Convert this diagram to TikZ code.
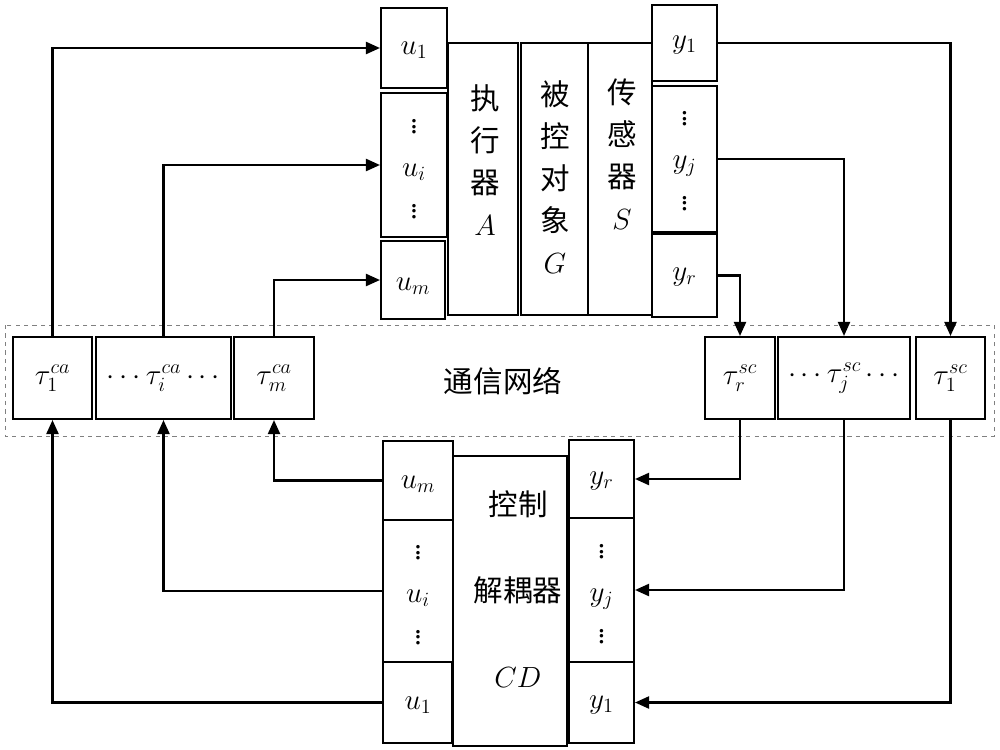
\documentclass[tikz,border=0pt]{standalone}
\usepackage{fontspec}
\setmainfont{Liberation Serif}
\newfontfamily\cjk{Noto Sans CJK SC}
\usepackage{tikz}
\usetikzlibrary{arrows.meta,positioning}

\begin{document}
\begin{tikzpicture}[
        x=0.025cm, y=-0.025cm,
        box/.style={draw, line width=1.4pt, inner sep=0pt},
        txt/.style={align=center, font=\fontsize{21}{30}\selectfont},
        flow/.style={->, line width=1.7pt},
        >={Triangle[length=10pt,width=8.5pt]}
    ]
        \useasboundingbox (0,0) rectangle (1000,750);

        % plant side
        \node[box, minimum width=1.65cm, minimum height=2cm] (ua1) at (414,48) {};
        \node[txt] (ua1t) at (414,50) {$u_1$};
        \node[box, minimum width=1.65cm, minimum height=3.6cm] (uai) at (414,165) {};
        \node[txt] (uait) at (414,165) {$\vdots$\\$u_i$\\$\vdots$};
        \node[box, minimum width=1.6cm, minimum height=1.95cm] (uam) at (413,280) {};
        \node[txt] (uamt) at (413,286) {$u_m$};

        \node[box, minimum width=1.75cm, minimum height=6.8cm] (act) at (483,179) {};
        \node[txt] (actt) at (485,160) {\cjk 执\\\cjk 行\\\cjk 器\\$A$};
        \node[box, minimum width=1.675cm, minimum height=6.8cm] (plant) at (554.5,179) {};
        \node[txt] (plantt) at (555,177) {\cjk 被\\\cjk 控\\\cjk 对\\\cjk 象\\$G$};
        \node[box, minimum width=1.6cm, minimum height=6.8cm] (sens) at (620,179) {};
        \node[txt] (senst) at (622,154) {\cjk 传\\\cjk 感\\\cjk 器\\$S$};

        \node[box, minimum width=1.625cm, minimum height=1.9cm] (y1) at (684.5,43) {};
        \node[txt] (y1t) at (684.5,45) {$y_1$};
        \node[box, minimum width=1.625cm, minimum height=3.65cm] (yj) at (684.5,159) {};
        \node[txt] (yjt) at (684.5,157) {$\vdots$\\$y_j$\\$\vdots$};
        \node[box, minimum width=1.625cm, minimum height=2.075cm] (yr) at (684.5,275.5) {};
        \node[txt] (yrt) at (684.5,277) {$y_r$};

        % network
        \draw[gray, dashed, line width=0.6pt] (5,325) rectangle (994,436);
        \node[txt] (net) at (503,381) {\cjk 通信网络};
        \node[box, txt, minimum width=1.975cm, minimum height=2.05cm] (tca1) at (52.5,378) {$\tau_1^{ca}$};
        \node[box, txt, minimum width=3.375cm, minimum height=2.05cm] (tcai) at (163.5,378) {$\cdots\tau_i^{ca}\cdots$};
        \node[box, txt, minimum width=2cm, minimum height=2.05cm] (tcam) at (274,378) {$\tau_m^{ca}$};
        \node[box, txt, minimum width=1.75cm, minimum height=2.05cm] (tscr) at (740,378) {$\tau_r^{sc}$};
        \node[box, txt, minimum width=3.3cm, minimum height=2.05cm] (tscj) at (844,378) {$\cdots\tau_j^{sc}\cdots$};
        \node[box, txt, minimum width=1.725cm, minimum height=2.05cm] (tsc1) at (950.5,378) {$\tau_1^{sc}$};

        % controller side
        \node[box, minimum width=1.75cm, minimum height=1.975cm] (bum) at (418,480.5) {};
        \node[txt] (bumt) at (418,484) {$u_m$};
        \node[box, minimum width=1.75cm, minimum height=3.55cm] (bui) at (418,591) {};
        \node[txt] (buit) at (418,591) {$\vdots$\\$u_i$\\$\vdots$};
        \node[box, minimum width=1.725cm, minimum height=2.025cm] (bu1) at (417.5,702.5) {};
        \node[txt] (bu1t) at (418,705) {$u_1$};

        \node[box, minimum width=2.85cm, minimum height=7.25cm] (cd) at (510,601) {};
        \node[txt, font=\fontsize{21}{61}\selectfont] (cdt) at (518,589) {\cjk 控制\\\cjk 解耦器\\$CD$};

        \node[box, minimum width=1.625cm, minimum height=1.95cm] (byr) at (601.5,479) {};
        \node[txt] (byrt) at (601.5,481) {$y_r$};
        \node[box, minimum width=1.625cm, minimum height=3.6cm] (byj) at (601.5,590) {};
        \node[txt] (byjt) at (601.5,590) {$\vdots$\\$y_j$\\$\vdots$};
        \node[box, minimum width=1.625cm, minimum height=2.025cm] (by1) at (601.5,702.5) {};
        \node[txt] (by1t) at (601.5,705) {$y_1$};

        % connections
        \draw[flow] (tca1.north) |- (ua1.west);
        \draw[flow] (tcai.north) |- (uai.west);
        \draw[flow] (tcam.north) |- (uam.west);
        \draw[flow] (y1.east) -| (tsc1.north);
        \draw[flow] (yj.east) -| (tscj.north);
        \draw[flow] (yr.east) -| (tscr.north);
        \draw[flow] (tscr.south) |- (byr.east);
        \draw[flow] (tscj.south) |- (byj.east);
        \draw[flow] (tsc1.south) |- (by1.east);
        \draw[flow] (bum.west) -| (tcam.south);
        \draw[flow] (bui.west) -| (tcai.south);
        \draw[flow] (bu1.west) -| (tca1.south);
    \end{tikzpicture}
\end{document}
